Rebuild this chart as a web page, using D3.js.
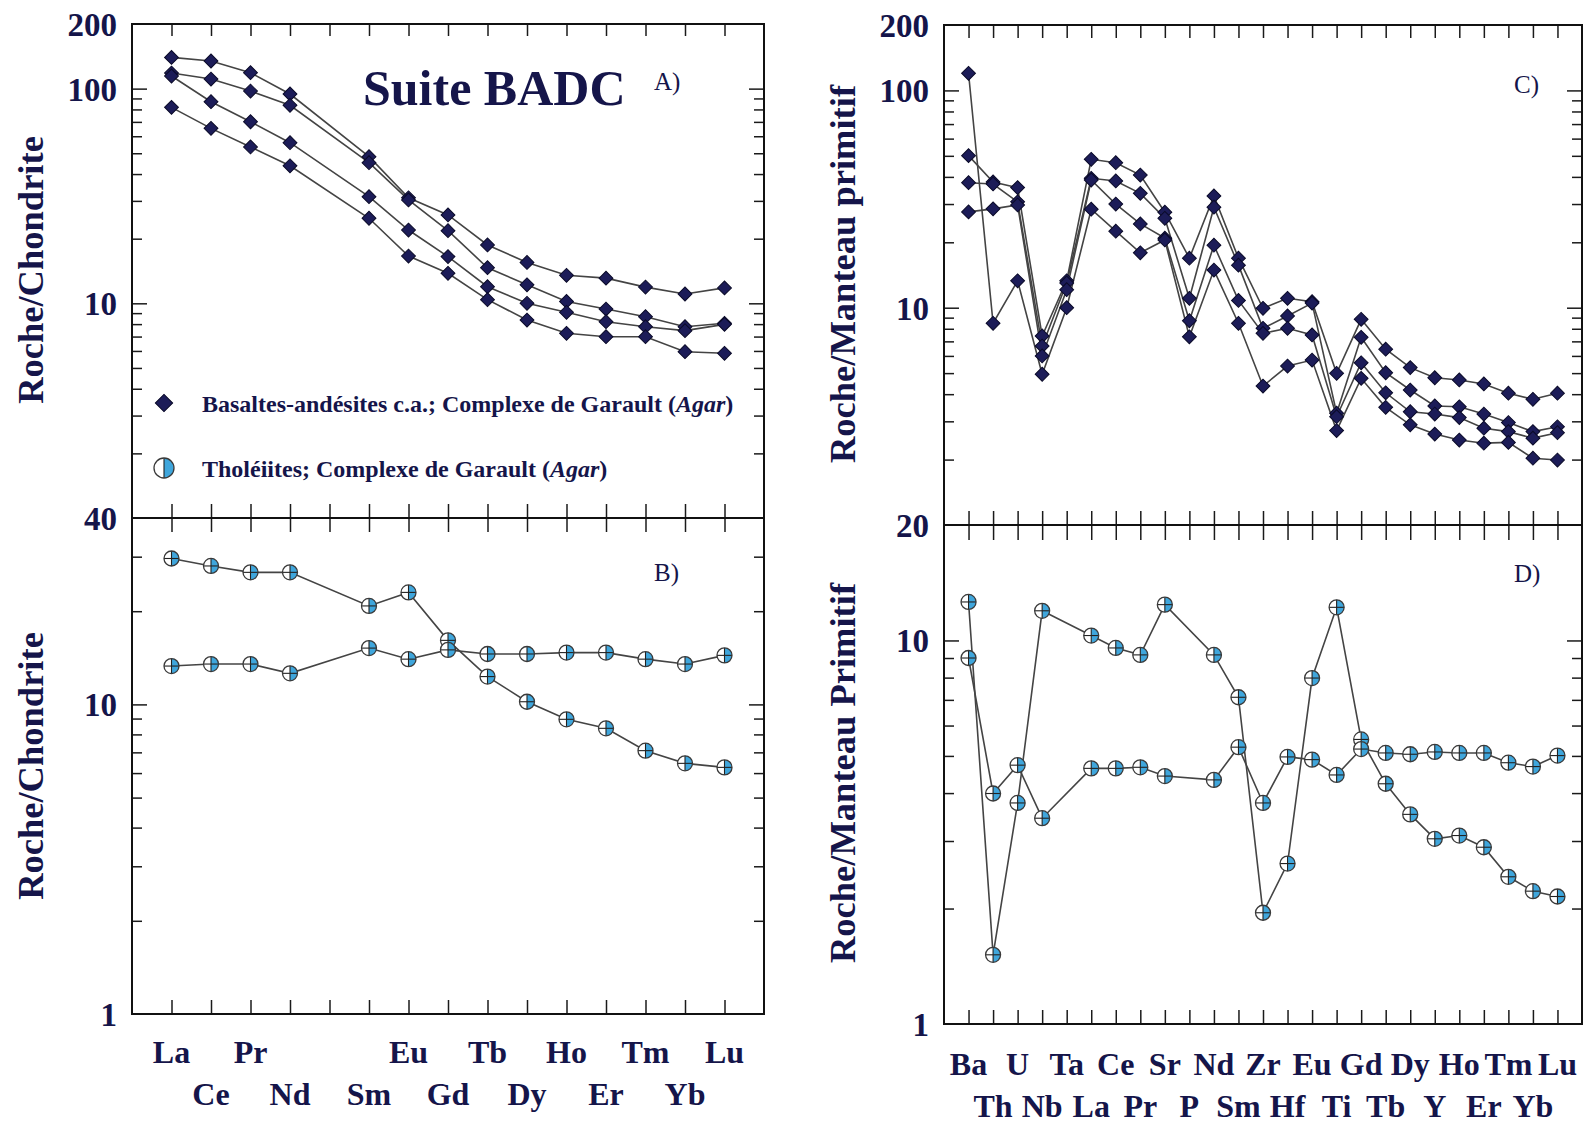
<!DOCTYPE html>
<html>
<head>
<meta charset="utf-8">
<script src="https://cdn.jsdelivr.net/npm/d3@7"></script>
<style>
  html, body { margin: 0; padding: 0; background: #ffffff; }
  svg { display: block; }
  text { font-family: "Liberation Serif", "Times New Roman", serif; fill: #15154a; }
</style>
</head>
<body>
<svg id="chart" width="1585" height="1124"></svg>
<script>
// ---- Element orders -------------------------------------------------------
// Rare earth elements (Pm is kept as an empty slot on the axis)
const reeElements = ['La','Ce','Pr','Nd','Pm','Sm','Eu','Gd','Tb','Dy','Ho','Er','Tm','Yb','Lu'];
const reeTickLabels = ['La','Ce','Pr','Nd','','Sm','Eu','Gd','Tb','Dy','Ho','Er','Tm','Yb','Lu'];
// Extended spider-diagram order
const spiderElements = ['Ba','Th','U','Nb','Ta','La','Ce','Pr','Sr','P','Nd','Sm','Zr','Hf','Eu','Ti','Gd','Tb','Dy','Y','Ho','Er','Tm','Yb','Lu'];

// ---- A) Basaltes-andesites c.a., chondrite-normalised REE ------------------
const caREE1 = [139.8,134.5,118.6,94.4,null,48.2,31.0,25.8,18.7,15.5,13.5,13.1,11.9,11.05,11.8];
const caREE2 = [118.2,110.8,97.4,83.6,null,45.2,30.3,21.8,14.65,12.2,10.2,9.4,8.66,7.78,8.07];
const caREE3 = [114.5,86.9,70.1,56.0,null,31.4,21.95,16.5,11.95,10.0,9.08,8.21,7.78,7.46,7.98];
const caREE4 = [81.8,65.3,53.5,43.7,null,24.9,16.6,13.8,10.4,8.36,7.25,6.99,6.99,5.95,5.85];

// ---- B) Tholeiites, chondrite-normalised REE ------------------------------
const thREE1 = [29.6,28.0,26.7,26.7,null,20.8,23.0,16.1,12.3,10.2,8.95,8.37,7.09,6.45,6.26];
const thREE2 = [13.3,13.5,13.5,12.6,null,15.2,14.0,15.0,14.55,14.55,14.7,14.7,14.0,13.5,14.4];

// ---- C) Basaltes-andesites c.a., primitive-mantle-normalised --------------
const caSpider1 = [50.1,37.9,35.7,7.41,13.3,48.2,46.5,40.8,27.5,16.9,32.7,16.9,9.94,11.05,10.66,4.99,8.84,6.44,5.30,4.76,4.65,4.46,4.04,3.79,4.04];
const caSpider2 = [37.6,37.1,30.7,6.66,13.0,39.4,38.3,33.6,25.8,11.05,29.0,15.7,8.04,9.16,10.5,3.27,7.31,5.02,4.18,3.53,3.50,3.24,2.96,2.69,2.83];
const caSpider3 = [27.6,28.5,29.7,6.0,12.1,38.7,30.0,24.3,20.9,8.71,19.4,10.8,7.62,8.04,7.49,3.15,5.58,4.06,3.32,3.24,3.12,2.79,2.69,2.51,2.66];
const caSpider4 = [119.9,8.48,13.3,4.94,10.0,28.4,22.5,17.9,20.5,7.35,14.9,8.48,4.36,5.39,5.74,2.72,4.73,3.48,2.89,2.62,2.46,2.38,2.40,2.03,1.99];

// ---- D) Tholeiites, primitive-mantle-normalised (no Ta, no P) -------------
const thSpider1 = [12.6,1.515,3.77,11.95,null,10.3,9.56,9.17,12.4,null,9.17,7.11,1.95,2.62,7.98,12.2,5.52,4.23,3.52,3.04,3.10,2.89,2.42,2.22,2.15];
const thSpider2 = [9.0,3.99,4.73,3.44,null,4.64,4.64,4.67,4.43,null,4.33,5.27,3.77,4.97,4.89,4.46,5.21,5.09,5.05,5.12,5.09,5.09,4.80,4.69,5.01];

// ---- Axis tick values -----------------------------------------------------
const minorTicksWide = [2,3,4,5,6,7,8,9,20,30,40,50,60,70,80,90];
const minorTicksB = [2,3,4,5,6,7,8,9,20,30];
const minorTicksD = [2,3,4,5,6,7,8,9];

const svg = d3.select('#chart');
const BLUE = '#3fa6dc';

function diamond(sel, cx, cy, area) {
  sel.append('path')
    .attr('d', d3.symbol(d3.symbolSquare, area || 96)())
    .attr('transform', `translate(${cx},${cy}) rotate(45)`)
    .attr('fill', '#1c1c58')
    .attr('stroke', '#0a0a28')
    .attr('stroke-width', 1);
}

function tholMarker(sel, cx, cy, r, withCross) {
  const m = sel.append('g').attr('transform', `translate(${cx},${cy})`);
  m.append('circle').attr('r', r).attr('fill', '#ffffff');
  m.append('path').attr('d', `M0,${-r} A${r},${r} 0 0 1 0,${r} Z`).attr('fill', BLUE);
  m.append('line').attr('x1', 0).attr('x2', 0).attr('y1', -r).attr('y2', r)
    .attr('stroke', '#222').attr('stroke-width', 1.1);
  if (withCross) {
    m.append('line').attr('x1', -r).attr('x2', r).attr('y1', 0).attr('y2', 0)
      .attr('stroke', '#222').attr('stroke-width', 1.1);
  }
  m.append('circle').attr('r', r).attr('fill', 'none').attr('stroke', '#3a3a3a').attr('stroke-width', 1.3);
}

function drawPanel(cfg) {
  const g = svg.append('g');
  const x = d3.scalePoint().domain(d3.range(cfg.elements.length)).range([cfg.x0, cfg.x1]).padding(1);
  const y = d3.scaleLog().domain(cfg.yDomain).range([cfg.y1, cfg.y0]);

  const tickStyle = s => s.call(a => a.select('.domain').remove())
    .call(a => a.selectAll('line').attr('stroke', '#1a1a1a').attr('stroke-width', 1.5));

  // vertical-axis ticks, left and right, pointing inward
  g.append('g').attr('transform', `translate(${cfg.x0},0)`)
    .call(d3.axisLeft(y).tickValues(cfg.majors).tickSizeInner(-15).tickSizeOuter(0).tickFormat(''))
    .call(tickStyle);
  g.append('g').attr('transform', `translate(${cfg.x0},0)`)
    .call(d3.axisLeft(y).tickValues(cfg.minors).tickSizeInner(-10).tickSizeOuter(0).tickFormat(''))
    .call(tickStyle);
  g.append('g').attr('transform', `translate(${cfg.x1},0)`)
    .call(d3.axisRight(y).tickValues(cfg.majors).tickSizeInner(-15).tickSizeOuter(0).tickFormat(''))
    .call(tickStyle);
  g.append('g').attr('transform', `translate(${cfg.x1},0)`)
    .call(d3.axisRight(y).tickValues(cfg.minors).tickSizeInner(-10).tickSizeOuter(0).tickFormat(''))
    .call(tickStyle);

  // element ticks on top and bottom edges
  g.append('g').attr('transform', `translate(0,${cfg.y0})`)
    .call(d3.axisTop(x).tickSizeInner(-cfg.topTick).tickSizeOuter(0).tickFormat(''))
    .call(tickStyle);
  g.append('g').attr('transform', `translate(0,${cfg.y1})`)
    .call(d3.axisBottom(x).tickSizeInner(-14).tickSizeOuter(0).tickFormat(''))
    .call(tickStyle);

  // frame
  g.append('rect')
    .attr('x', cfg.x0).attr('y', cfg.y0)
    .attr('width', cfg.x1 - cfg.x0).attr('height', cfg.y1 - cfg.y0)
    .attr('fill', 'none').attr('stroke', '#111').attr('stroke-width', 2);

  // y labels
  cfg.yLabels.forEach(v => {
    g.append('text')
      .attr('x', cfg.x0 - 15).attr('y', y(v)).attr('dy', '0.36em')
      .attr('text-anchor', 'end')
      .attr('font-size', 33).attr('font-weight', 'bold')
      .text(v);
  });

  // series lines (missing elements are skipped, the line runs straight across)
  const line = d3.line().x(d => x(d.i)).y(d => y(d.v));
  cfg.series.forEach(vals => {
    const pts = vals.map((v, i) => ({ i, v })).filter(d => d.v != null);
    g.append('path').datum(pts).attr('d', line)
      .attr('fill', 'none').attr('stroke', '#444').attr('stroke-width', 1.6);
  });
  cfg.series.forEach(vals => {
    vals.forEach((v, i) => {
      if (v == null) return;
      if (cfg.marker === 'diamond') diamond(g, x(i), y(v));
      else tholMarker(g, x(i), y(v), 7.5, true);
    });
  });

  // panel letter
  g.append('text').attr('x', cfg.letterPos[0]).attr('y', cfg.letterPos[1])
    .attr('font-size', 25).text(cfg.letter);

  // vertical title
  g.append('text')
    .attr('transform', `translate(${cfg.titlePos[0]},${cfg.titlePos[1]}) rotate(-90)`)
    .attr('text-anchor', 'middle').attr('dy', '0.35em')
    .attr('font-size', 36.5).attr('font-weight', 'bold')
    .text(cfg.title);

  return { g, x, y };
}

// ---- Left column ----------------------------------------------------------
const A = drawPanel({
  elements: reeElements, x0: 132, x1: 764, y0: 24, y1: 518, yDomain: [1, 200],
  majors: [10, 100], minors: minorTicksWide, yLabels: [200, 100, 10], topTick: 12,
  series: [caREE1, caREE2, caREE3, caREE4], marker: 'diamond',
  letter: 'A)', letterPos: [654, 90], title: 'Roche/Chondrite', titlePos: [30, 270]
});
const B = drawPanel({
  elements: reeElements, x0: 132, x1: 764, y0: 518, y1: 1014, yDomain: [1, 40],
  majors: [10], minors: minorTicksB, yLabels: [40, 10, 1], topTick: 14,
  series: [thREE1, thREE2], marker: 'thol',
  letter: 'B)', letterPos: [654, 581], title: 'Roche/Chondrite', titlePos: [30, 766]
});

// REE labels under the left column, staggered on two rows
reeTickLabels.forEach((lab, i) => {
  if (!lab) return;
  svg.append('text')
    .attr('x', B.x(i)).attr('y', i % 2 === 0 ? 1063 : 1105)
    .attr('text-anchor', 'middle').attr('font-size', 32).attr('font-weight', 'bold')
    .text(lab);
});

// ---- Right column ---------------------------------------------------------
const C = drawPanel({
  elements: spiderElements, x0: 944, x1: 1582, y0: 25, y1: 525, yDomain: [1, 200],
  majors: [10, 100], minors: minorTicksWide, yLabels: [200, 100, 10], topTick: 13,
  series: [caSpider1, caSpider2, caSpider3, caSpider4], marker: 'diamond',
  letter: 'C)', letterPos: [1514, 93], title: 'Roche/Manteau primitif', titlePos: [842, 274]
});
const D = drawPanel({
  elements: spiderElements, x0: 944, x1: 1582, y0: 525, y1: 1024, yDomain: [1, 20],
  majors: [10], minors: minorTicksD, yLabels: [20, 10, 1], topTick: 15,
  series: [thSpider1, thSpider2], marker: 'thol',
  letter: 'D)', letterPos: [1514, 582], title: 'Roche/Manteau Primitif', titlePos: [842, 773]
});

spiderElements.forEach((lab, i) => {
  svg.append('text')
    .attr('x', D.x(i)).attr('y', i % 2 === 0 ? 1075 : 1117)
    .attr('text-anchor', 'middle').attr('font-size', 32).attr('font-weight', 'bold')
    .text(lab);
});

// ---- Title and legend inside panel A --------------------------------------
svg.append('text').attr('x', 363).attr('y', 105)
  .attr('font-size', 50).attr('font-weight', 'bold').text('Suite BADC');

diamond(svg, 164, 403, 150);
const l1 = svg.append('text').attr('x', 202).attr('y', 412)
  .attr('font-size', 24).attr('font-weight', 'bold');
l1.append('tspan').text('Basaltes-andésites c.a.; Complexe de Garault (');
l1.append('tspan').attr('font-style', 'italic').text('Agar');
l1.append('tspan').text(')');

tholMarker(svg, 164, 468, 10, false);
const l2 = svg.append('text').attr('x', 202).attr('y', 477)
  .attr('font-size', 24).attr('font-weight', 'bold');
l2.append('tspan').text('Tholéiites; Complexe de Garault (');
l2.append('tspan').attr('font-style', 'italic').text('Agar');
l2.append('tspan').text(')');
</script>
</body>
</html>
